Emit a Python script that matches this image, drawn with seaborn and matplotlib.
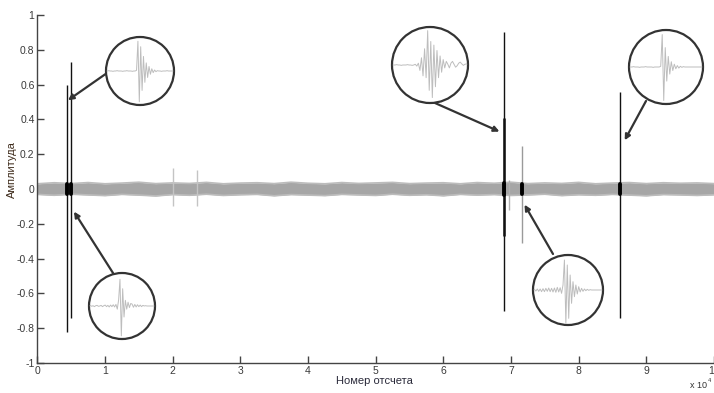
import numpy as np
import pandas as pd
import matplotlib
matplotlib.use("Agg")
import matplotlib.pyplot as plt
from matplotlib.patches import Circle
import seaborn as sns

# ---------------- data ----------------
x_ticks = [0, 1, 2, 3, 4, 5, 6, 7, 8, 9, 10]
y_ticks = [-1, -0.8, -0.6, -0.4, -0.2, 0, 0.2, 0.4, 0.6, 0.8, 1]

# background noise envelope (samples, amplitude)
noise_x = [0, 2500, 5000, 7500, 10000, 12500, 15000, 17500, 20000, 22500,
           25000, 27500, 30000, 32500, 35000, 37500, 40000, 42500, 45000, 47500,
           50000, 52500, 55000, 57500, 60000, 62500, 65000, 67500, 70000, 72500,
           75000, 77500, 80000, 82500, 85000, 87500, 90000, 92500, 95000, 97500, 100000]
noise_up = [0.030, 0.036, 0.031, 0.037, 0.030, 0.034, 0.039, 0.031, 0.035, 0.032,
            0.038, 0.030, 0.034, 0.036, 0.031, 0.039, 0.033, 0.030, 0.037, 0.032,
            0.035, 0.038, 0.031, 0.034, 0.036, 0.030, 0.037, 0.033, 0.039, 0.031,
            0.035, 0.032, 0.038, 0.030, 0.034, 0.037, 0.031, 0.036, 0.033, 0.035, 0.031]
noise_lo = [-0.031, -0.036, -0.030, -0.034, -0.038, -0.031, -0.035, -0.040, -0.032, -0.036,
            -0.030, -0.037, -0.033, -0.031, -0.039, -0.032, -0.035, -0.038, -0.031, -0.034,
            -0.037, -0.030, -0.036, -0.033, -0.039, -0.031, -0.035, -0.032, -0.037, -0.034,
            -0.030, -0.038, -0.033, -0.036, -0.031, -0.035, -0.039, -0.032, -0.034, -0.037, -0.033]

# strong (black) events
black_x = [4340, 5020, 68900, 86100]
black_top = [0.60, 0.73, 0.90, 0.56]
black_bot = [-0.82, -0.74, -0.70, -0.74]
# thick core of the event at 6.89e4
core_x = [68900]
core_top = [0.41]
core_bot = [-0.27]

# weak (gray) events
gray_x = [20050, 23600, 69700, 71600]
gray_top = [0.12, 0.11, 0.05, 0.25]
gray_bot = [-0.10, -0.10, -0.12, -0.31]
gray_col = ["#c4c4c4", "#c4c4c4", "#b0b0b0", "#9a9a9a"]

# dark blobs on the noise where events occur
blob_x = [4340, 5020, 68900, 71600, 86100]
blob_h = [0.030, 0.030, 0.034, 0.026, 0.030]

# arrow targets (samples, amplitude)
arrow_x = [4530, 5420, 68300, 72000, 86800]
arrow_y = [0.51, -0.13, 0.33, -0.09, 0.28]

# zoomed waveforms shown inside circles
wave1 = [0, 0, 0.01, 0, 0, -0.01, 0, 0, 0.01, 0, 0, 0, -0.01, 0, 0, 0.01, 0, 0, 0, -0.01,
         0, 0, 0.02, 0.92, -0.95, 0.75, -0.6, 0.45, -0.35, 0.25, -0.2, 0.14, -0.1, 0.07,
         -0.05, 0.03, -0.02, 0.01, 0, 0, -0.01, 0, 0, 0, 0.01, 0, 0, 0, 0, 0]
wave2 = [0, 0.02, -0.01, 0.01, -0.02, 0.01, 0.02, -0.01, 0, 0.02, -0.02, 0.01, 0.03, -0.02,
         0.02, -0.03, 0.03, -0.02, 0.04, -0.03, 0.05, -0.1, 0.2, 0.85, -0.95, 0.55, -0.35,
         0.18, -0.1, 0.12, -0.05, 0.08, 0.06, -0.04, 0.05, -0.03, 0.04, -0.02, 0.03, -0.02,
         0.02, 0, 0.01, 0, 0, 0, 0, 0, 0, 0]
wave3 = [0, 0, 0, 0.01, 0, 0, -0.01, 0, 0, 0, 0.01, 0, 0, -0.01, 0, 0.02, -0.03, 0.05,
         -0.15, 0.2, -0.3, 0.45, -0.35, 0.95, -0.7, 0.65, -0.9, 0.55, -0.6, 0.4, -0.35, 0.25,
         -0.2, 0.15, -0.08, 0.1, 0.02, -0.08, 0.05, 0.1, 0.02, -0.06, -0.02, 0.05,
         0.08, 0.03, -0.01, 0.02, 0.03, 0.02]
wave4 = [0, 0.02, -0.03, 0.03, -0.04, 0.03, -0.05, 0.04, -0.05, 0.05, -0.04, 0.06, -0.05,
         0.05, -0.06, 0.06, -0.07, 0.08, -0.06, 0.07, -0.1, 0.15, 0.9, -1.0, 0.75, -0.85,
         0.45, -0.4, 0.25, -0.2, 0.15, -0.12, 0.1, -0.06, 0.05, -0.04, 0.03, -0.02, 0.02,
         -0.01, 0.01, 0, 0, 0, 0, 0, 0, 0, 0, 0]
wave5 = [0, 0, 0, 0.01, 0, 0, 0, -0.01, 0, 0, 0, 0.01, 0, 0, 0, 0, -0.01, 0, 0, 0, 0, 0.02,
         0.92, -0.95, 0.55, -0.4, 0.3, -0.2, 0.15, -0.1, 0.08, -0.05, 0.04, -0.03, 0.02,
         -0.01, 0.01, 0, 0, 0, 0, 0, 0, 0, 0, 0, 0, 0, 0, 0]
waves = [wave1, wave2, wave3, wave4, wave5]

# ---------------- layout (pixels) ----------------
W, H = 714, 393
circles = [(140, 71, 34), (122, 306, 33), (430, 65, 38), (568, 290, 35), (666, 67, 37)]
arrow_start = [(107, 73), (113, 273), (435, 103), (553, 254), (646, 101)]

sns.set_theme(style="ticks")
plt.rcParams['font.family'] = ['Liberation Sans', 'DejaVu Sans']

fig = plt.figure(figsize=(W / 100, H / 100), dpi=100)
ax = fig.add_axes([37.3 / W, 1 - 363 / H, (714 - 37.3) / W, (363 - 15) / H])

# noise band
nd = pd.DataFrame({"x": noise_x, "up": noise_up, "lo": noise_lo})
ax.fill_between(nd["x"], nd["lo"], nd["up"], color="#a6a6a6", lw=0, zorder=2)
sns.lineplot(x=nd["x"], y=nd["up"], ax=ax, color="#bcbcbc", lw=1.2, zorder=2)
sns.lineplot(x=nd["x"], y=nd["lo"], ax=ax, color="#bcbcbc", lw=1.2, zorder=2)

# events
for gx, gb, gt, gc in zip(gray_x, gray_bot, gray_top, gray_col):
    ax.vlines(gx, gb, gt, color=gc, lw=1.0, zorder=3)
ax.vlines(black_x, black_bot, black_top, color="#111111", lw=1.0, zorder=4)
ax.vlines(core_x, core_bot, core_top, color="#111111", lw=1.8, zorder=4)
ax.vlines(blob_x, [-h for h in blob_h], blob_h, color="#000000", lw=2.8,
          zorder=5, capstyle="round")

ax.set_xlim(0, 100000)
ax.set_ylim(-1, 1)
ax.set_xticks([t * 10000 for t in x_ticks])
ax.set_xticklabels([str(t) for t in x_ticks])
ax.set_yticks(y_ticks)
ax.set_yticklabels([("%g" % t) for t in y_ticks])
ax.set_xlabel("")
ax.set_ylabel("")
for s in ["top", "right"]:
    ax.spines[s].set_visible(False)
for s in ["left", "bottom"]:
    ax.spines[s].set_color("#444444")
    ax.spines[s].set_linewidth(1.0)
ax.tick_params(direction="in", length=5, width=1, color="#444444",
               labelsize=7.5, labelcolor="#3a3a3a", pad=2)
ax.set_facecolor("white")

fig.text(374 / W, 1 - 381 / H, "Номер отсчета", ha="center", va="center",
         fontsize=8, color="#2a2a3a")
fig.text(12 / W, 1 - 170 / H, "Амплитуда", ha="center", va="center",
         rotation=90, fontsize=8, color="#3d2a1a")
fig.text(698 / W, 1 - 386 / H, "x 10", ha="center", va="center",
         fontsize=6.5, color="#333333")
fig.text(709 / W, 1 - 381 / H, "4", ha="center", va="center",
         fontsize=4, color="#333333")

# overlay in pixel coordinates
ov = fig.add_axes([0, 0, 1, 1])
ov.set_xlim(0, W)
ov.set_ylim(H, 0)
ov.axis("off")

for (sx, sy), tx, ty in zip(arrow_start, arrow_x, arrow_y):
    ov.annotate("", xy=(tx, ty), xycoords=ax.transData, xytext=(sx, sy),
                textcoords="data",
                arrowprops=dict(arrowstyle="-|>", color="#333333", lw=1.6,
                                mutation_scale=8, shrinkA=0, shrinkB=0))

for (cx, cy, r) in circles:
    ov.add_patch(Circle((cx, cy), r, facecolor="white", edgecolor="#333333",
                        lw=1.6, zorder=3))

for (cx, cy, r), wv in zip(circles, waves):
    iax = fig.add_axes([(cx - r) / W, 1 - (cy + r) / H, 2 * r / W, 2 * r / H])
    iax.axis("off")
    wd = pd.DataFrame({"i": np.arange(len(wv)), "v": wv})
    sns.lineplot(data=wd, x="i", y="v", ax=iax, color="#bdbdbd", lw=0.7)
    iax.set_xlim(0, len(wv) - 1)
    iax.set_ylim(-1.05, 1.05)
    clip = Circle((0.5, 0.5), 0.49, transform=iax.transAxes)
    for ln in iax.lines:
        ln.set_clip_path(clip)

fig.savefig("out.png", dpi=100, facecolor="white")
